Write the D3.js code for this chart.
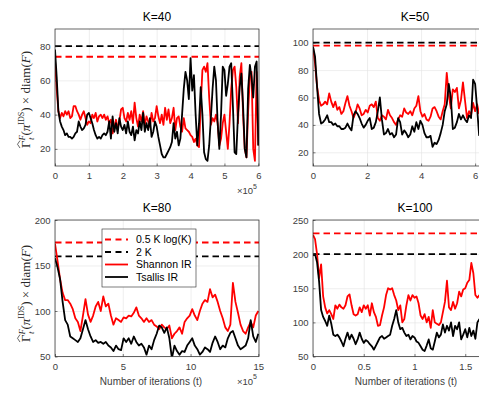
<!DOCTYPE html>
<html>
<head>
<meta charset="utf-8">
<script src="https://cdnjs.cloudflare.com/ajax/libs/d3/7.8.5/d3.min.js"></script>
<style>
  body { margin: 0; background: #fff; }
  svg { display: block; font-family: "Liberation Sans", Arial, sans-serif; }
  .ax .tick text { fill: #404040; font-size: 9.5px; }
  .ax .tick line { stroke: #262626; stroke-width: 0.6; }
  .ax .domain { display: none; }
  .grid line { stroke: #e3e3e3; stroke-width: 0.6; }
  .grid .domain, .grid text { display: none; }
</style>
</head>
<body>
<div id="viz"></div>
<script>
var W = 479, H = 398;

// sampled every `step` units of the x axis (x1e5 or x1e6 iterations)
var k40Step = 0.05;
var k40Shannon = [72,55,42,38,41,39,42,40,42,38,39,45,45,42,40,37,40,42,38,34,
  36,35,40,38,41,36,39,40,38,40,37,39,35,37,29,33,37,32,36,43,
  44,38,36,41,37,42,35,47,38,33,40,36,42,34,39,36,33,41,36,38,
  45,39,35,40,34,44,37,43,35,38,44,31,38,39,33,30,38,32,31,30,
  28,27,24,26,22,21,45,66,68,65,70,50,34,38,36,40,35,22,26,35,
  40,30,20,35,55,66,68,56,35,62,70,40,20,15,42,62,65,20,13,65,22];
var k40Tsallis = [78,62,42,36,33,31,28,29,27,27,26,27,29,30,36,33,31,32,34,40,
  41,38,35,31,28,26,27,26,28,29,28,30,36,26,39,30,35,29,38,33,
  31,34,29,36,30,28,33,25,31,29,36,31,41,30,35,31,38,27,30,36,
  33,27,22,17,15,15,17,19,21,24,35,26,30,22,26,40,55,65,60,49,
  73,54,63,40,22,35,56,40,18,14,13,22,38,55,68,60,35,20,40,68,
  66,51,58,68,70,45,18,17,40,56,64,45,20,15,55,69,62,50,68,71,22];

var k50Step = 0.075;
var k50Shannon = [97,85,68,58,54,55,57,55,63,57,53,57,51,53,48,50,56,61,54,50,
  45,49,55,52,47,48,51,49,54,55,53,57,45,43,47,46,44,51,47,45,
  42,40,44,47,46,52,49,48,50,47,52,54,61,50,46,48,44,43,46,52,
  53,50,46,44,50,55,78,62,52,66,64,67,52,58,71,58,45,50,47,56,50,55,48];
var k50Tsallis = [97,90,68,48,41,42,44,47,42,42,40,41,39,39,37,37,38,41,38,36,
  47,50,48,45,41,38,40,43,45,37,38,42,50,60,44,33,34,37,33,34,
  31,33,45,42,33,36,34,31,33,39,35,42,37,43,40,34,31,31,32,24,
  27,26,29,34,40,50,55,70,60,37,38,42,48,44,47,44,42,47,45,73,70,52,32];

var k80Step = 0.1875;
var k80Shannon = [174,155,135,120,112,112,108,102,92,88,78,95,113,96,88,95,105,110,100,116,
  105,108,95,85,92,90,88,93,92,95,94,98,104,95,92,88,92,88,90,85,
  83,80,85,82,80,84,70,75,78,82,75,88,92,95,102,95,90,100,108,112,
  110,124,115,118,110,100,92,82,78,85,131,110,98,85,78,75,82,88,82,95,100];
var k80Tsallis = [158,148,135,110,90,85,72,70,68,66,70,80,90,80,72,66,68,65,66,64,
  66,62,60,56,62,58,57,70,66,70,64,72,66,62,64,60,52,62,58,68,
  75,84,82,76,82,70,48,62,56,52,56,55,62,66,70,62,58,52,55,60,
  58,55,65,72,66,58,62,60,70,76,78,70,62,58,60,62,70,90,72,66,75];

var k100Step = 0.02;
var k100Shannon = [228,222,200,165,185,138,122,113,118,112,105,125,120,126,122,120,125,138,141,125,
  112,110,112,122,115,125,120,125,110,128,115,108,95,96,110,122,140,150,148,150,
  140,132,118,125,100,105,125,140,132,140,136,138,128,110,105,112,100,108,92,118,
  100,98,96,100,115,130,161,122,118,130,120,128,145,138,148,150,158,162,187,172,140,136,140];
var k100Tsallis = [198,200,188,160,118,108,102,95,110,98,82,80,82,78,72,65,76,85,75,82,
  76,68,75,85,76,70,74,72,68,65,60,66,72,78,80,76,78,80,82,95,
  105,118,100,90,92,85,80,82,75,80,78,72,70,65,60,58,66,75,62,60,
  72,85,78,82,97,85,95,88,100,80,95,90,100,75,82,90,78,92,80,88,76,100,105];

// reference levels: 0.5 K log(K) and 2 K
var titles = ["K=40", "K=50", "K=80", "K=100"];
var boundLog = [73.8, 97.8, 175.3, 230.3];
var bound2K = [80, 100, 160, 200];

var xTicks = [[0,1,2,3,4,5,6], [0,2,4,6], [0,5,10,15], [0,0.5,1,1.5]];
var yTicks = [[20,40,60,80], [20,40,60,80,100], [50,100,150,200], [50,100,150,200,250]];
var legendLabels = ["0.5 K log(K)", "2 K", "Shannon IR", "Tsallis IR"];

var panels = [
  {left: 55, top: 29, h: 137, xDom: [0, 6.02], yDom: [10, 90], step: k40Step, s: k40Shannon, t: k40Tsallis, exp: "5"},
  {left: 313, top: 29, h: 137, xDom: [0, 7.55], yDom: [10, 110], step: k50Step, s: k50Shannon, t: k50Tsallis, exp: null},
  {left: 55, top: 220, h: 136.5, xDom: [0, 15.05], yDom: [50, 200], step: k80Step, s: k80Shannon, t: k80Tsallis, exp: "5"},
  {left: 313, top: 220, h: 136.5, xDom: [0, 2.01], yDom: [50, 250], step: k100Step, s: k100Shannon, t: k100Tsallis, exp: null}
];
var pw = 204;

var svg = d3.select("#viz").append("svg")
  .attr("width", W).attr("height", H);

panels.forEach(function(p, i) {
  var x = d3.scaleLinear().domain(p.xDom).range([0, pw]);
  var y = d3.scaleLinear().domain(p.yDom).range([p.h, 0]);
  var g = svg.append("g").attr("transform", "translate(" + p.left + "," + p.top + ")");

  g.append("clipPath").attr("id", "clip" + i)
    .append("rect").attr("width", pw).attr("height", p.h);

  //grid behind everything
  g.append("g").attr("class", "grid")
    .call(d3.axisBottom(x).tickValues(xTicks[i]).tickSize(p.h).tickFormat(""));
  g.append("g").attr("class", "grid")
    .call(d3.axisLeft(y).tickValues(yTicks[i]).tickSize(-pw).tickFormat(""));

  var plot = g.append("g").attr("clip-path", "url(#clip" + i + ")");

  plot.append("line")
    .attr("x1", 0).attr("x2", pw)
    .attr("y1", y(boundLog[i])).attr("y2", y(boundLog[i]))
    .attr("stroke", "#ff0000").attr("stroke-width", 1.8)
    .attr("stroke-dasharray", "6.5,4");
  plot.append("line")
    .attr("x1", 0).attr("x2", pw)
    .attr("y1", y(bound2K[i])).attr("y2", y(bound2K[i]))
    .attr("stroke", "#000").attr("stroke-width", 1.8)
    .attr("stroke-dasharray", "6.5,4");

  var line = d3.line()
    .x(function(d, j) { return x(j * p.step); })
    .y(function(d) { return y(d); });

  plot.append("path").datum(p.s)
    .attr("d", line).attr("fill", "none")
    .attr("stroke", "#ff0000").attr("stroke-width", 1.8)
    .attr("stroke-linejoin", "round");
  plot.append("path").datum(p.t)
    .attr("d", line).attr("fill", "none")
    .attr("stroke", "#000").attr("stroke-width", 1.8)
    .attr("stroke-linejoin", "round");

  //axes with inward ticks
  g.append("g").attr("class", "ax")
    .attr("transform", "translate(0," + p.h + ")")
    .call(d3.axisBottom(x).tickValues(xTicks[i]).tickSizeInner(-2.5).tickSizeOuter(0).tickPadding(6.5)
      .tickFormat(d3.format("~g")));
  g.append("g").attr("class", "ax")
    .call(d3.axisLeft(y).tickValues(yTicks[i]).tickSizeInner(-2.5).tickSizeOuter(0).tickPadding(4.5));

  g.append("rect")
    .attr("width", pw).attr("height", p.h)
    .attr("fill", "none").attr("stroke", "#262626").attr("stroke-width", 0.7);

  g.append("text")
    .attr("x", pw / 2).attr("y", -8.5)
    .attr("text-anchor", "middle")
    .attr("font-size", 12)
    .attr("fill", "#000")
    .text(titles[i]);

  if (p.exp) {
    var e = g.append("text")
      .attr("x", pw - 2).attr("y", p.h + 28)
      .attr("text-anchor", "end")
      .attr("font-size", 9.5).attr("fill", "#404040");
    e.append("tspan").text("\u00d710");
    e.append("tspan").attr("font-size", 7).attr("dy", -5.5).text(p.exp);
  }
});

// x labels for the bottom row
[151, 406].forEach(function(cx) {
  svg.append("text")
    .attr("x", cx).attr("y", 385)
    .attr("text-anchor", "middle")
    .attr("font-size", 10).attr("fill", "#404040")
    .text("Number of iterations (t)");
});

// y labels (math) for the left column
function yLabel(cy) {
  var g = svg.append("g").attr("transform", "translate(30," + cy + ") rotate(-90)");
  var t = g.append("text")
    .attr("font-family", "'Liberation Serif', 'DejaVu Serif', serif")
    .attr("font-size", 13).attr("fill", "#262626");
  var gam = t.append("tspan").text("\u0393");
  t.append("tspan").attr("font-size", 9).attr("font-style", "italic").attr("dy", -5.5).text("F");
  t.append("tspan").attr("font-size", 9).attr("font-style", "italic").attr("dx", -5).attr("dy", 9).text("t");
  t.append("tspan").attr("dy", -3.5).attr("dx", 2).text("(");
  t.append("tspan").attr("font-style", "italic").text("\u03c0");
  t.append("tspan").attr("font-size", 8).attr("dy", -6).text("IDS");
  t.append("tspan").attr("dy", 6).text(") \u00d7 diam(");
  t.append("tspan").attr("font-style", "italic").text("F");
  t.append("tspan").text(")");
  var L = t.node().getComputedTextLength();
  t.attr("x", -L / 2);
  var gw = gam.node().getComputedTextLength();
  g.append("path")
    .attr("d", "M" + (-L / 2) + ",-10 L" + (-L / 2 + gw / 2) + ",-12.5 L" + (-L / 2 + gw) + ",-10")
    .attr("fill", "none").attr("stroke", "#262626").attr("stroke-width", 0.7);
}
yLabel(98);
yLabel(292);

// legend in the K=80 panel
var leg = svg.append("g").attr("transform", "translate(102,229)");
leg.append("rect").attr("width", 94).attr("height", 58)
  .attr("fill", "#fff").attr("stroke", "#262626").attr("stroke-width", 0.6);
var legColors = ["#ff0000", "#000", "#ff0000", "#000"];
var legDash = ["6,4.5", "6,4.5", null, null];
legendLabels.forEach(function(lab, i) {
  var yy = 10.5 + i * 12.5;
  leg.append("line")
    .attr("x1", 3).attr("x2", 26).attr("y1", yy).attr("y2", yy)
    .attr("stroke", legColors[i]).attr("stroke-width", 1.8)
    .attr("stroke-dasharray", legDash[i]);
  leg.append("text")
    .attr("x", 34).attr("y", yy).attr("dy", "0.35em")
    .attr("font-size", 10.5).attr("fill", "#000")
    .text(lab);
});
</script>
</body>
</html>
